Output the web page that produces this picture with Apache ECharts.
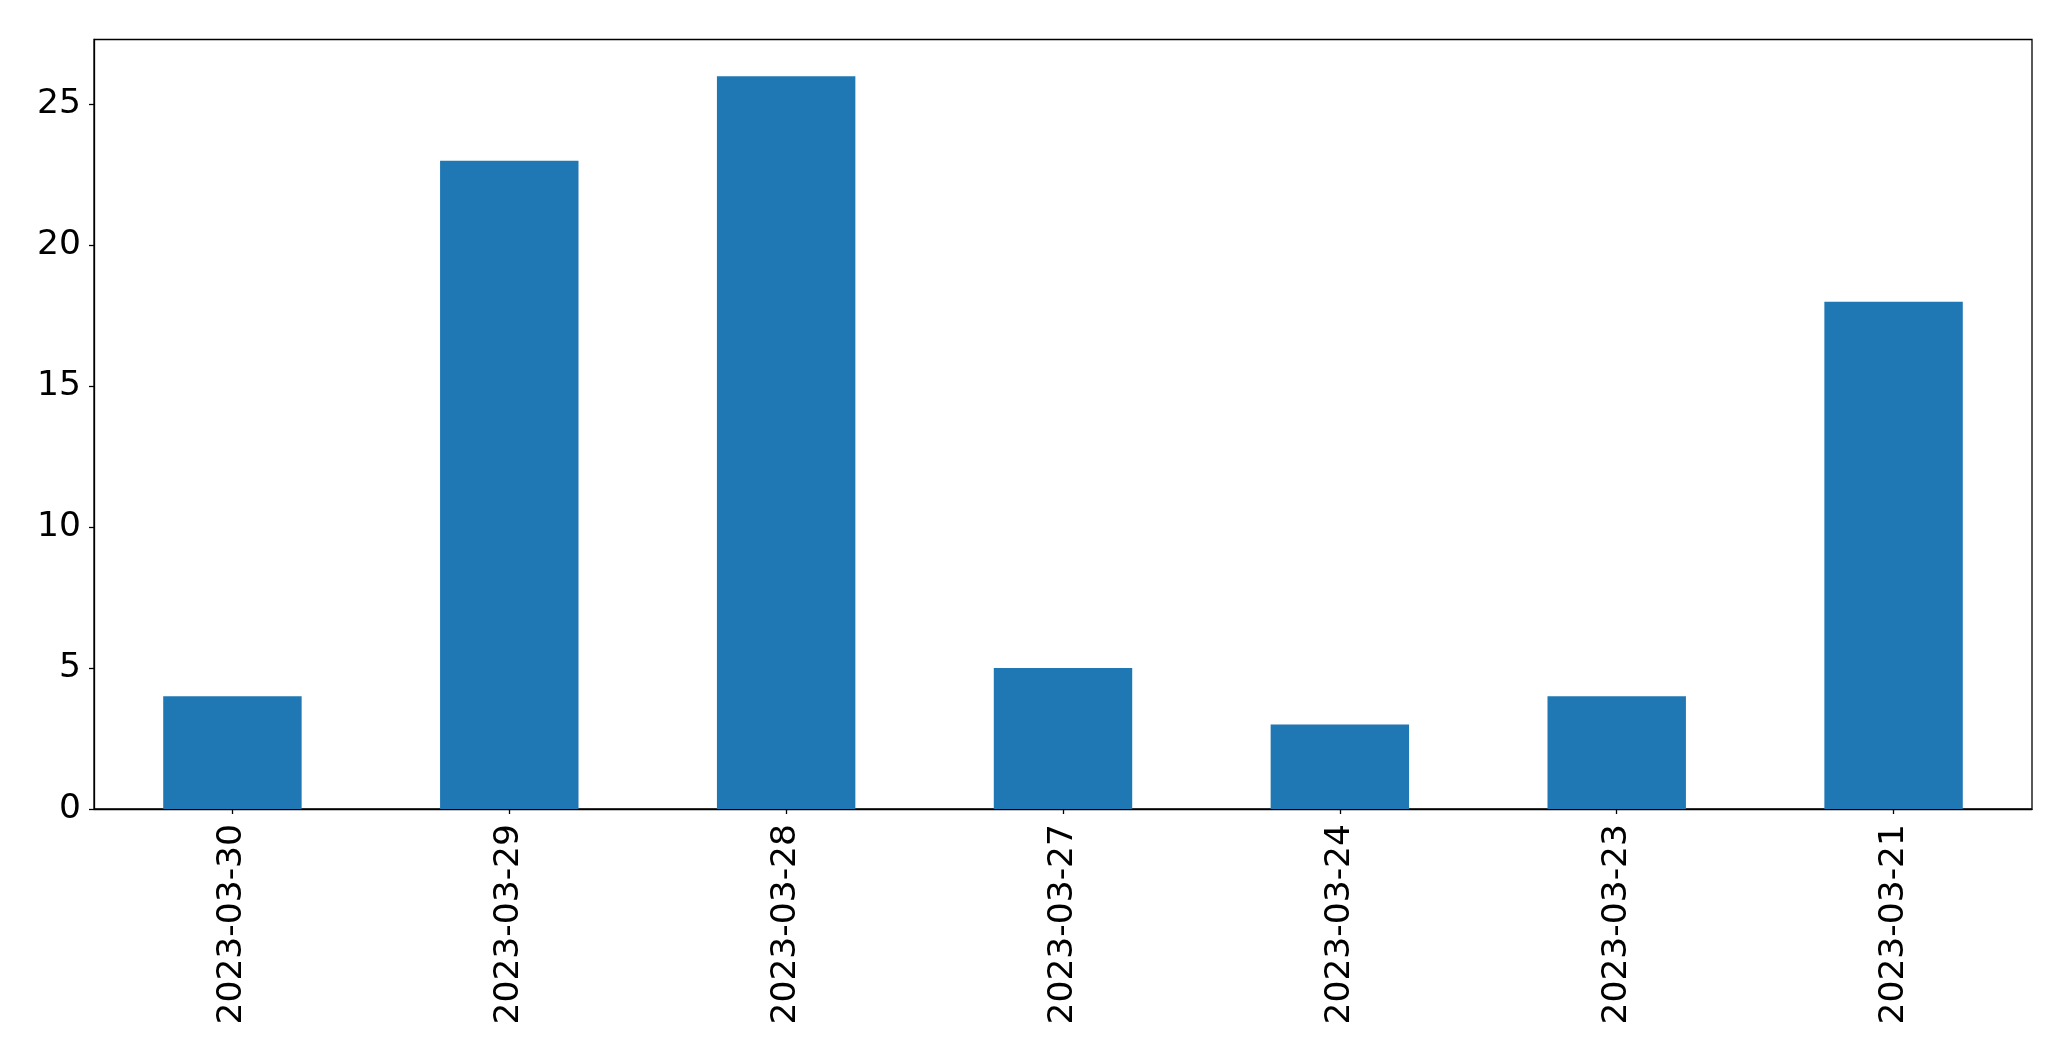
<!DOCTYPE html>
<html>
<head>
<meta charset="utf-8">
<script src="https://cdn.jsdelivr.net/npm/echarts@6/dist/echarts.min.js"></script>
<style>
html,body{margin:0;padding:0;background:#fff;}
#chart{width:2071px;height:1061px;}
</style>
</head>
<body>
<div id="chart"></div>
<script>
const categories = ['2023-03-30','2023-03-29','2023-03-28','2023-03-27','2023-03-24','2023-03-23','2023-03-21'];
const values = [4, 23, 26, 5, 3, 4, 18];
const yTicks = [0, 5, 10, 15, 20, 25];

const chart = echarts.init(document.getElementById('chart'), null, {renderer: 'canvas'});
const font = 'DejaVu Sans';
chart.setOption({
  animation: false,
  backgroundColor: '#fff',
  grid: {left: 94, right: 39, top: 39.5, bottom: 252, show: true, borderColor: '#000', borderWidth: 1.3, containLabel: false},
  xAxis: {
    type: 'category',
    data: categories,
    boundaryGap: true,
    axisLine: {show: true, lineStyle: {color: '#000', width: 1.3}},
    axisTick: {show: true, alignWithLabel: true, length: 5, lineStyle: {color: '#000', width: 1.3}},
    axisLabel: {rotate: 90, margin: 15, fontFamily: font, fontSize: 34.5, color: '#000'},
    splitLine: {show: false}
  },
  yAxis: {
    type: 'value',
    min: 0,
    max: 27.3,
    interval: 5,
    axisLine: {show: true, lineStyle: {color: '#000', width: 1.3}},
    axisTick: {show: true, length: 5, customValues: yTicks, lineStyle: {color: '#000', width: 1.3}},
    axisLabel: {margin: 13, fontFamily: font, fontSize: 34.5, color: '#000', customValues: yTicks},
    splitLine: {show: false}
  },
  series: [{
    type: 'bar',
    data: values,
    barWidth: '50%',
    itemStyle: {color: '#1f77b4'}
  }]
});
</script>
</body>
</html>
